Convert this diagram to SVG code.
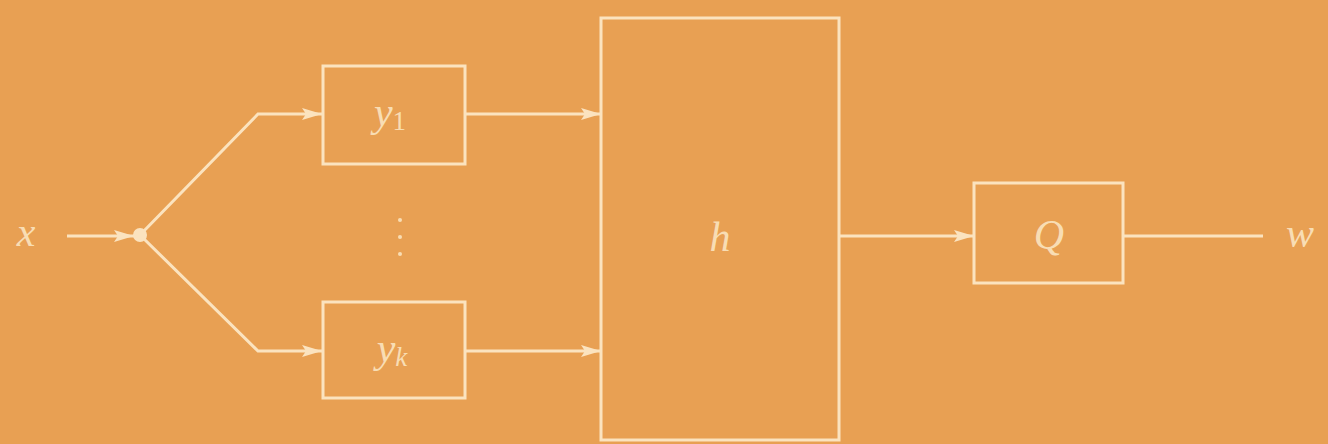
<svg xmlns="http://www.w3.org/2000/svg" width="1328" height="444" viewBox="0 0 1328 444">
<style>
.ln{stroke:#FBE3BF;stroke-width:3;fill:none}
.bx{stroke:#FBE3BF;stroke-width:3;fill:none}
.t{font-family:"Liberation Serif",serif;font-style:italic;fill:#F8DDB4;font-size:42px;text-anchor:middle}
.s{font-family:"Liberation Serif",serif;font-style:normal;fill:#F8DDB4;font-size:27px}
.si{font-family:"Liberation Serif",serif;font-style:italic;fill:#F8DDB4;font-size:27px}
</style>
<defs>
<marker id="ah" viewBox="0 0 20 12" refX="20" refY="6" markerWidth="20" markerHeight="12" markerUnits="userSpaceOnUse" orient="auto">
<path d="M0,0 L20,6 L0,12 L4,6 Z" fill="#FBE3BF"/>
</marker>
</defs>
<rect width="1328" height="444" fill="#E8A053"/>
<g id="connectors">
<line class="ln" x1="67" y1="236" x2="134" y2="236" marker-end="url(#ah)"/>
<polyline class="ln" points="140,235 258,114 322,114" marker-end="url(#ah)"/>
<polyline class="ln" points="140,235 258,351 322,351" marker-end="url(#ah)"/>
<line class="ln" x1="466" y1="114" x2="601" y2="114" marker-end="url(#ah)"/>
<line class="ln" x1="466" y1="351" x2="601" y2="351" marker-end="url(#ah)"/>
<line class="ln" x1="839" y1="236" x2="974" y2="236" marker-end="url(#ah)"/>
<line class="ln" x1="1123" y1="236" x2="1263" y2="236"/>
<circle cx="140" cy="235" r="7" fill="#FBE3BF"/>
</g>
<g id="x"><text class="t" x="26" y="246">x</text></g>
<g id="y1">
<rect class="bx" x="323" y="66" width="142" height="98"/>
<text class="t" x="390" y="126">y<tspan class="s" dy="4">1</tspan></text>
</g>
<g id="dots">
<circle cx="400" cy="220" r="2" fill="#F8DDB4"/>
<circle cx="400" cy="237" r="2" fill="#F8DDB4"/>
<circle cx="400" cy="254" r="2" fill="#F8DDB4"/>
</g>
<g id="yk">
<rect class="bx" x="323" y="302" width="142" height="96"/>
<text class="t" x="392" y="362">y<tspan class="si" dy="4">k</tspan></text>
</g>
<g id="h">
<rect class="bx" x="601" y="18" width="238" height="422"/>
<text class="t" x="720" y="251">h</text>
</g>
<g id="Q">
<rect class="bx" x="974" y="183" width="149" height="100"/>
<text class="t" x="1049" y="249">Q</text>
</g>
<g id="w"><text class="t" x="1300" y="247">w</text></g>
</svg>
